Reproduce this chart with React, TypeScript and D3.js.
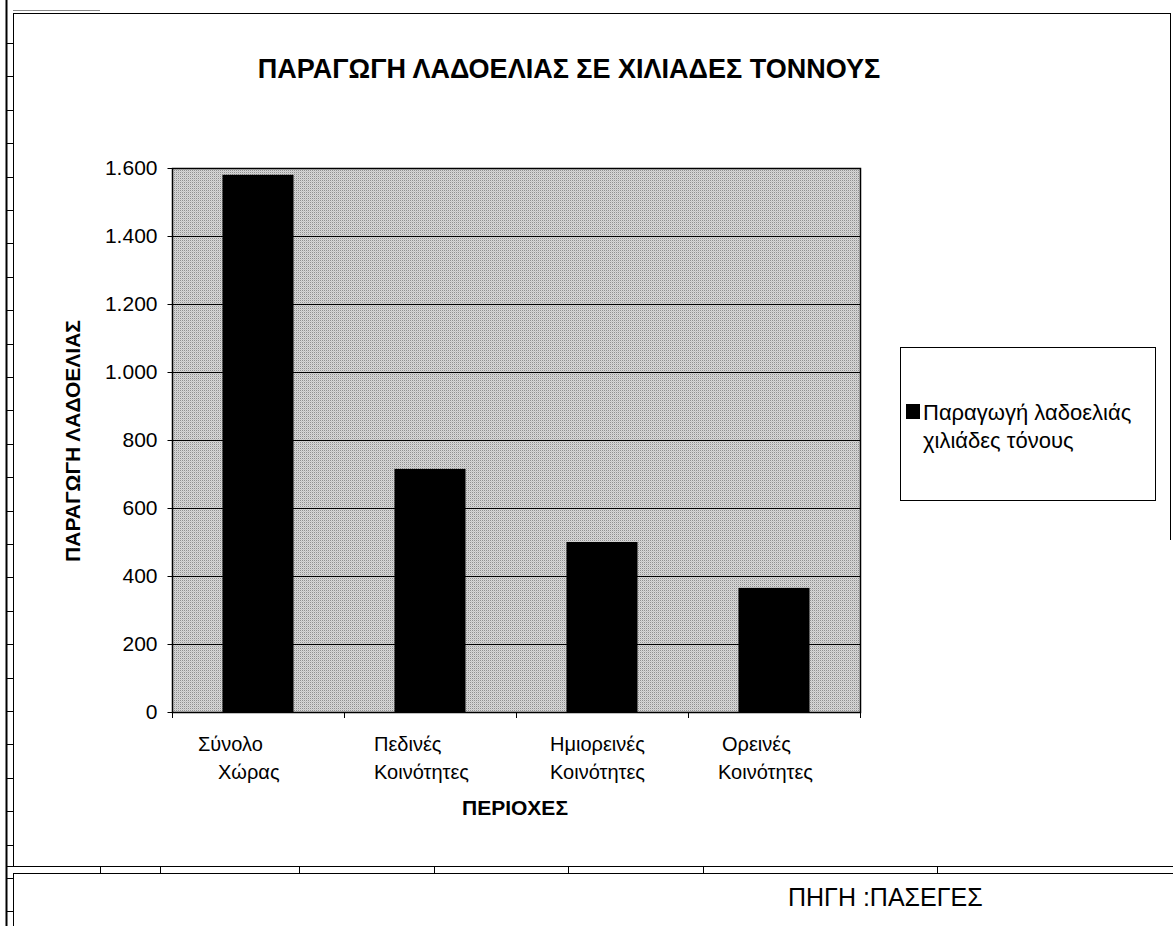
import React, { useEffect, useRef } from "react";
import * as d3 from "d3";

const categoryLine1 = ["Σύνολο", "Πεδινές", "Ημιορεινές", "Ορεινές"];
const categoryLine2 = ["Χώρας", "Κοινότητες", "Κοινότητες", "Κοινότητες"];
const production = [1580, 715, 500, 365];
const yTicks = [0, 200, 400, 600, 800, 1000, 1200, 1400, 1600];
const chartTitle = "ΠΑΡΑΓΩΓΗ ΛΑΔΟΕΛΙΑΣ ΣΕ ΧΙΛΙΑΔΕΣ ΤΟΝΝΟΥΣ";
const yTitle = "ΠΑΡΑΓΩΓΗ ΛΑΔΟΕΛΙΑΣ";
const xTitle = "ΠΕΡΙΟΧΕΣ";
const legendLines = ["Παραγωγή λαδοελιάς", "χιλιάδες τόνους"];
const sourceText = "ΠΗΓΗ :ΠΑΣΕΓΕΣ";

const W = 1173;
const H = 926;
const FONT = "'Liberation Sans', Arial, Helvetica, sans-serif";

export default function App() {
  const ref = useRef<SVGSVGElement>(null);

  useEffect(() => {
    const svg = d3.select(ref.current);
    svg.selectAll("*").remove();

    const plot = { left: 172, top: 168, right: 860, bottom: 712 };

    const defs = svg.append("defs");
    const pat = defs
      .append("pattern")
      .attr("id", "stipple")
      .attr("width", 2)
      .attr("height", 2)
      .attr("patternUnits", "userSpaceOnUse");
    pat.append("rect").attr("width", 2).attr("height", 2).attr("fill", "#d8d8d8");
    pat.append("rect").attr("x", 0).attr("y", 0).attr("width", 1).attr("height", 1).attr("fill", "#909090");
    pat.append("rect").attr("x", 1).attr("y", 1).attr("width", 1).attr("height", 1).attr("fill", "#c4c4c4");

    svg.append("rect").attr("width", W).attr("height", H).attr("fill", "#fff");

    // page / frame decorations
    const frame = svg.append("g").attr("stroke", "#000").attr("fill", "none");
    frame.append("line").attr("x1", 6.5).attr("x2", 6.5).attr("y1", 0).attr("y2", H).attr("stroke-width", 2);
    frame.append("line").attr("x1", 13.5).attr("x2", 13.5).attr("y1", 13).attr("y2", 866);
    frame.append("line").attr("x1", 13.5).attr("x2", 13.5).attr("y1", 873).attr("y2", H);
    frame.append("line").attr("x1", 13).attr("x2", 1170).attr("y1", 13.5).attr("y2", 13.5);
    frame.append("line").attr("x1", 13).attr("x2", 100).attr("y1", 10.5).attr("y2", 10.5).attr("stroke", "#888");
    frame.append("line").attr("x1", 1170.5).attr("x2", 1170.5).attr("y1", 13).attr("y2", 540);
    frame.append("line").attr("x1", 6).attr("x2", W).attr("y1", 866.5).attr("y2", 866.5);
    frame.append("line").attr("x1", 13).attr("x2", W).attr("y1", 873.5).attr("y2", 873.5);
    const rowMarks = d3.range(43, H, 33.4);
    frame
      .selectAll("line.row")
      .data(rowMarks)
      .join("line")
      .attr("class", "row")
      .attr("x1", 6)
      .attr("x2", 13)
      .attr("y1", (d) => Math.round(d) + 0.5)
      .attr("y2", (d) => Math.round(d) + 0.5);
    const colMarks = [100, 160, 299, 434, 568, 703, 937];
    frame
      .selectAll("line.col")
      .data(colMarks)
      .join("line")
      .attr("class", "col")
      .attr("x1", (d) => d + 0.5)
      .attr("x2", (d) => d + 0.5)
      .attr("y1", 866)
      .attr("y2", 873);

    // scales
    const x = d3
      .scaleBand<number>()
      .domain(d3.range(production.length))
      .range([plot.left, plot.right])
      .paddingInner(0.587)
      .paddingOuter(0.2935);
    const y = d3.scaleLinear().domain([0, 1600]).range([plot.bottom, plot.top]);
    const step = (plot.right - plot.left) / production.length;

    // plot background
    svg
      .append("rect")
      .attr("x", plot.left)
      .attr("y", plot.top)
      .attr("width", plot.right - plot.left)
      .attr("height", plot.bottom - plot.top)
      .attr("fill", "url(#stipple)");

    // gridlines
    svg
      .append("g")
      .selectAll("line")
      .data(yTicks.filter((t) => t > 0))
      .join("line")
      .attr("x1", plot.left)
      .attr("x2", plot.right)
      .attr("y1", (d) => Math.round(y(d)) + 0.5)
      .attr("y2", (d) => Math.round(y(d)) + 0.5)
      .attr("stroke", "#000")
      .attr("stroke-width", 1);

    // bars
    svg
      .append("g")
      .selectAll("rect")
      .data(production)
      .join("rect")
      .attr("x", (_, i) => x(i)!)
      .attr("width", x.bandwidth())
      .attr("y", (d) => y(d))
      .attr("height", (d) => y(0) - y(d))
      .attr("fill", "#000");

    // plot border
    svg
      .append("rect")
      .attr("x", plot.left + 0.5)
      .attr("y", plot.top + 0.5)
      .attr("width", plot.right - plot.left)
      .attr("height", plot.bottom - plot.top)
      .attr("fill", "none")
      .attr("stroke", "#000")
      .attr("stroke-width", 1.5);

    // y axis
    const loc = d3.formatLocale({ decimal: ",", thousands: ".", grouping: [3], currency: ["", "€"] });
    const fmt = loc.format(",");
    const yAxis = d3
      .axisLeft(y)
      .tickValues(yTicks)
      .tickFormat((d) => fmt(d as number))
      .tickSize(5)
      .tickPadding(10);
    const yg = svg.append("g").attr("transform", `translate(${plot.left + 0.5},0)`).call(yAxis);
    yg.select(".domain").remove();
    yg.selectAll("text").attr("font-family", FONT).attr("font-size", 21).attr("fill", "#000");
    yg.selectAll("line").attr("stroke", "#000");

    // x ticks at band boundaries
    svg
      .append("g")
      .selectAll("line")
      .data(d3.range(production.length + 1))
      .join("line")
      .attr("x1", (d) => Math.round(plot.left + d * step) + 0.5)
      .attr("x2", (d) => Math.round(plot.left + d * step) + 0.5)
      .attr("y1", plot.bottom)
      .attr("y2", plot.bottom + 6)
      .attr("stroke", "#000");

    // x labels (left-aligned lines, offset from band centre)
    const line1Dx = [-60, -56, -52, -52];
    const line2Dx = [-40, -56, -52, -56];
    const xl = svg.append("g").attr("font-family", FONT).attr("font-size", 20).attr("text-anchor", "start");
    xl.selectAll("text.l1")
      .data(categoryLine1)
      .join("text")
      .attr("class", "l1")
      .attr("x", (_, i) => x(i)! + x.bandwidth() / 2 + line1Dx[i])
      .attr("y", 751)
      .text((d) => d);
    xl.selectAll("text.l2")
      .data(categoryLine2)
      .join("text")
      .attr("class", "l2")
      .attr("x", (_, i) => x(i)! + x.bandwidth() / 2 + line2Dx[i])
      .attr("y", 779)
      .text((d) => d);

    // titles
    svg
      .append("text")
      .attr("x", 569)
      .attr("y", 78)
      .attr("text-anchor", "middle")
      .attr("font-family", FONT)
      .attr("font-weight", "bold")
      .attr("font-size", 27)
      .text(chartTitle);
    svg
      .append("text")
      .attr("x", 515)
      .attr("y", 815)
      .attr("text-anchor", "middle")
      .attr("font-family", FONT)
      .attr("font-weight", "bold")
      .attr("font-size", 21)
      .text(xTitle);
    svg
      .append("text")
      .attr("transform", `translate(80,441) rotate(-90)`)
      .attr("text-anchor", "middle")
      .attr("font-family", FONT)
      .attr("font-weight", "bold")
      .attr("font-size", 21)
      .text(yTitle);

    // legend
    const lg = svg.append("g");
    lg.append("rect")
      .attr("x", 900.5)
      .attr("y", 347.5)
      .attr("width", 255)
      .attr("height", 153)
      .attr("fill", "#fff")
      .attr("stroke", "#000");
    lg.append("rect").attr("x", 906).attr("y", 404).attr("width", 14).attr("height", 15).attr("fill", "#000");
    lg.selectAll("text")
      .data(legendLines)
      .join("text")
      .attr("x", 923)
      .attr("y", (_, i) => 420 + i * 28)
      .attr("font-family", FONT)
      .attr("font-size", 22)
      .text((d) => d);

    // source
    svg
      .append("text")
      .attr("x", 788)
      .attr("y", 906)
      .attr("font-family", FONT)
      .attr("font-size", 25)
      .text(sourceText);
  }, []);

  return (
    <svg
      ref={ref}
      width={W}
      height={H}
      style={{ position: "absolute", left: 0, top: 0, display: "block" }}
    />
  );
}
